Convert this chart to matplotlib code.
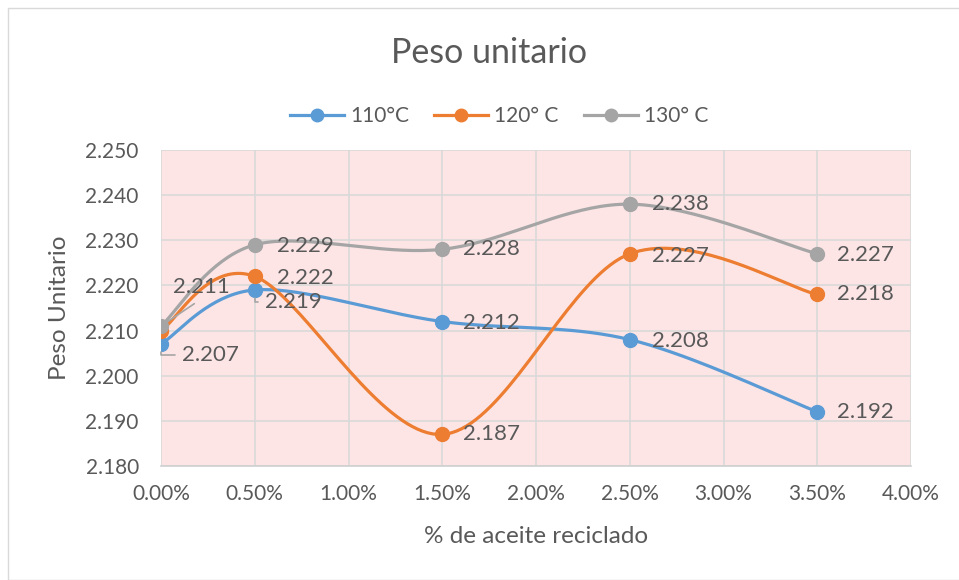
import numpy as np
import matplotlib
matplotlib.use("Agg")
import matplotlib.pyplot as plt
from matplotlib.patches import Rectangle
from matplotlib.ticker import FuncFormatter, MultipleLocator
from matplotlib.lines import Line2D

plt.rcParams['font.family'] = ['Lato', 'DejaVu Sans']

# % de aceite reciclado
x_vals = [0.0, 0.005, 0.015, 0.025, 0.035]
t110 = [2.207, 2.219, 2.212, 2.208, 2.192]
t120 = [2.210, 2.222, 2.187, 2.227, 2.218]
t130 = [2.211, 2.229, 2.228, 2.238, 2.227]
series_names = ['110°C', '120° C', '130° C']
colors = ['#5B9BD5', '#ED7D31', '#A5A5A5']

TXT = '#595959'
XMIN, XMAX, YMIN, YMAX = 0.0, 0.04, 2.180, 2.250


def excel_smooth(xs, ys, sx, sy, n=40):
    """Bezier smoothing like Excel's 'smoothed line', in screen-ish units"""
    px = np.asarray(xs) * sx
    py = np.asarray(ys) * sy
    outx, outy = [], []
    for i in range(len(px) - 1):
        p0 = np.array([px[max(i - 1, 0)], py[max(i - 1, 0)]])
        p1 = np.array([px[i], py[i]])
        p2 = np.array([px[i + 1], py[i + 1]])
        p3 = np.array([px[min(i + 2, len(px) - 1)], py[min(i + 2, len(px) - 1)]])
        c1 = p1 + (p2 - p0) / 6.0
        c2 = p2 - (p3 - p1) / 6.0
        t = np.linspace(0, 1, n)[:, None]
        b = ((1 - t) ** 3) * p1 + 3 * ((1 - t) ** 2) * t * c1 + 3 * (1 - t) * t ** 2 * c2 + t ** 3 * p2
        outx.extend(b[:, 0] / sx)
        outy.extend(b[:, 1] / sy)
    return np.array(outx), np.array(outy)


fig = plt.figure(figsize=(9.59, 5.80), dpi=100)
fig.patches.append(Rectangle((8 / 959, 0.0), 1.2, (580 - 8) / 580, transform=fig.transFigure,
                             fill=False, edgecolor='#D9D9D9', linewidth=1.0))
ax = fig.add_axes([161 / 959, 1 - 466 / 580, 750 / 959, 316 / 580])
ax.set_facecolor('#FDE5E6')

sx = 750 / (XMAX - XMIN)
sy = 316 / (YMAX - YMIN)
for ys, c, name in zip([t110, t120, t130], colors, series_names):
    cx, cy = excel_smooth(x_vals, ys, sx, sy)
    ax.plot(cx, cy, color=c, lw=2.3, solid_capstyle='round', zorder=3)
    ax.plot(x_vals, ys, 'o', color=c, ms=10, zorder=4, label=name)

ax.set_xlim(XMIN, XMAX)
ax.set_ylim(YMIN, YMAX)
ax.xaxis.set_major_locator(MultipleLocator(0.005))
ax.yaxis.set_major_locator(MultipleLocator(0.010))
ax.xaxis.set_major_formatter(FuncFormatter(lambda v, p: f'{v * 100:.2f}%'))
ax.yaxis.set_major_formatter(FuncFormatter(lambda v, p: f'{v:.3f}'))
ax.grid(True, color='#D9D9D9', lw=1.2, zorder=0)
ax.set_axisbelow(True)
for s in ['top', 'right', 'left']:
    ax.spines[s].set_visible(False)
ax.spines['bottom'].set_color('#D0D0D0')
ax.spines['bottom'].set_linewidth(1.2)
ax.tick_params(length=0, labelsize=15, colors=TXT)
ax.tick_params(axis='x', pad=13)
ax.tick_params(axis='y', pad=16)

ax.set_xlabel('% de aceite reciclado', fontsize=17.5, color=TXT, labelpad=16)
ax.set_ylabel('Peso Unitario', fontsize=17.5, color=TXT, labelpad=11)
fig.text(489 / 959, 1 - 53 / 580, 'Peso unitario', ha='center', va='center', fontsize=24.5, color=TXT)

# data labels (offsets in pixels)
lbl = dict(fontsize=16, color=TXT, ha='left', va='center', textcoords='offset pixels', zorder=5)
lead = dict(arrowstyle='-', color='#A6A6A6', lw=1.2, shrinkA=0, shrinkB=6)
offsets = {
    0: [(21, -11), (10, -12), (21, -1), (22, -1), (20, 0)],
    1: [None, (22, -2), (21, 0), (22, -2), (20, 0)],
    2: [(12, 39), (22, -1), (21, 0), (22, 0), (20, -1)],
}
for k, ys in enumerate([t110, t120, t130]):
    for i, (xv, yv) in enumerate(zip(x_vals, ys)):
        off = offsets[k][i]
        if off is None:
            continue
        if (k, i) in [(0, 0), (0, 1)]:
            ax.annotate(f'{yv:.3f}', (xv, yv), xytext=off,
                        arrowprops=dict(lead, shrinkA=3, connectionstyle='angle,angleA=0,angleB=90'), **lbl)
        elif (k, i) == (2, 0):
            ax.annotate(f'{yv:.3f}', (xv, yv), xytext=off,
                        arrowprops=dict(lead, shrinkA=5, relpos=(0.55, 0.0)), **lbl)
        else:
            ax.annotate(f'{yv:.3f}', (xv, yv), xytext=off, **lbl)

handles = [Line2D([0], [0], color=c, lw=2.3, marker='o', ms=9) for c in colors]
fig.legend(handles, series_names, loc='center', bbox_to_anchor=(499 / 959, 1 - 116 / 580), ncol=3,
           frameon=False, fontsize=15, labelcolor=TXT, handlelength=2.6, columnspacing=1.2, handletextpad=0.3)

fig.savefig('out.png', dpi=100)
